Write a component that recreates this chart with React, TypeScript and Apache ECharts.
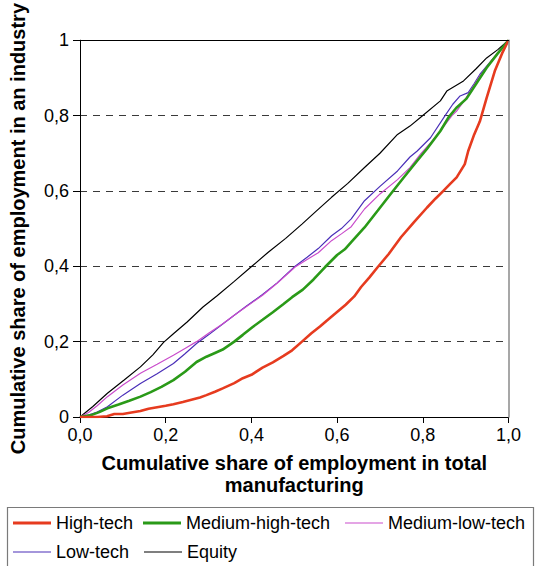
import React, { useEffect, useRef } from "react";
import * as echarts from "echarts";

// Concentration curves: cumulative share of employment in an industry
// against cumulative share of employment in total manufacturing.
const highTech: [number, number][] = [
  [0, 0], [0.04, 0], [0.063, 0.002], [0.08, 0.008], [0.1, 0.008], [0.12, 0.012],
  [0.141, 0.016], [0.16, 0.022], [0.18, 0.026], [0.2, 0.03], [0.218, 0.034],
  [0.24, 0.04], [0.26, 0.046], [0.28, 0.052], [0.295, 0.058], [0.315, 0.067],
  [0.333, 0.076], [0.36, 0.09], [0.38, 0.103], [0.4, 0.112], [0.426, 0.131],
  [0.45, 0.145], [0.475, 0.162], [0.495, 0.177], [0.518, 0.2], [0.54, 0.222],
  [0.56, 0.24], [0.575, 0.255], [0.595, 0.274], [0.62, 0.298], [0.64, 0.32],
  [0.656, 0.345], [0.675, 0.37], [0.695, 0.398], [0.72, 0.432], [0.749, 0.477],
  [0.78, 0.518], [0.81, 0.556], [0.83, 0.58], [0.848, 0.6], [0.865, 0.62],
  [0.879, 0.636], [0.898, 0.671], [0.906, 0.706], [0.92, 0.75], [0.933, 0.784],
  [0.949, 0.847], [0.968, 0.918], [0.985, 0.965], [1, 1],
];

const mediumHighTech: [number, number][] = [
  [0, 0], [0.026, 0.005], [0.045, 0.013], [0.064, 0.023], [0.09, 0.033],
  [0.115, 0.043], [0.141, 0.054], [0.165, 0.066], [0.19, 0.08], [0.218, 0.098],
  [0.245, 0.12], [0.272, 0.146], [0.295, 0.16], [0.315, 0.17], [0.333, 0.179],
  [0.36, 0.2], [0.38, 0.218], [0.403, 0.239], [0.426, 0.258], [0.45, 0.278],
  [0.475, 0.3], [0.495, 0.318], [0.52, 0.338], [0.545, 0.365], [0.572, 0.398],
  [0.6, 0.43], [0.618, 0.445], [0.633, 0.464], [0.664, 0.503], [0.695, 0.548],
  [0.725, 0.592], [0.755, 0.635], [0.787, 0.68], [0.81, 0.712], [0.841, 0.759],
  [0.86, 0.795], [0.878, 0.82], [0.902, 0.845], [0.925, 0.885], [0.949, 0.927],
  [0.975, 0.965], [1, 1],
];

const mediumLowTech: [number, number][] = [
  [0, 0], [0.02, 0.012], [0.04, 0.03], [0.064, 0.054], [0.1, 0.085],
  [0.141, 0.116], [0.18, 0.14], [0.218, 0.164], [0.245, 0.182], [0.272, 0.2],
  [0.3, 0.222], [0.33, 0.245], [0.36, 0.27], [0.387, 0.292], [0.426, 0.323],
  [0.46, 0.355], [0.502, 0.398], [0.53, 0.418], [0.556, 0.436], [0.587, 0.468],
  [0.61, 0.486], [0.633, 0.505], [0.664, 0.552], [0.7, 0.592], [0.741, 0.63],
  [0.77, 0.662], [0.795, 0.698], [0.82, 0.73], [0.841, 0.759], [0.868, 0.8],
  [0.879, 0.812], [0.9, 0.845], [0.933, 0.905], [0.96, 0.945], [1, 1],
];

const lowTech: [number, number][] = [
  [0, 0], [0.02, 0.005], [0.04, 0.013], [0.064, 0.027], [0.1, 0.058],
  [0.141, 0.089], [0.18, 0.115], [0.218, 0.142], [0.245, 0.168], [0.272, 0.195],
  [0.3, 0.218], [0.33, 0.244], [0.36, 0.27], [0.387, 0.293], [0.426, 0.325],
  [0.46, 0.356], [0.502, 0.4], [0.53, 0.424], [0.556, 0.447], [0.587, 0.481],
  [0.61, 0.5], [0.633, 0.526], [0.664, 0.574], [0.7, 0.612], [0.741, 0.653],
  [0.77, 0.69], [0.787, 0.706], [0.818, 0.741], [0.852, 0.8], [0.87, 0.83],
  [0.887, 0.852], [0.906, 0.861], [0.92, 0.885], [0.933, 0.909], [0.952, 0.935],
  [0.972, 0.962], [1, 1],
];

const equity: [number, number][] = [
  [0, 0], [0.03, 0.028], [0.064, 0.063], [0.103, 0.098], [0.141, 0.133],
  [0.17, 0.165], [0.195, 0.198], [0.218, 0.221], [0.25, 0.252], [0.287, 0.292],
  [0.32, 0.322], [0.36, 0.36], [0.399, 0.398], [0.44, 0.438], [0.48, 0.474],
  [0.518, 0.512], [0.55, 0.545], [0.587, 0.583], [0.625, 0.62], [0.664, 0.662],
  [0.7, 0.7], [0.741, 0.75], [0.77, 0.772], [0.8, 0.8], [0.841, 0.839],
  [0.856, 0.865], [0.895, 0.892], [0.925, 0.925], [0.949, 0.953], [0.975, 0.975],
  [1, 1],
];

const seriesNames = ["High-tech", "Medium-high-tech", "Medium-low-tech", "Low-tech", "Equity"];
const seriesData = [highTech, mediumHighTech, mediumLowTech, lowTech, equity];
const seriesColors = ["#e63b1f", "#2a9a18", "#c94ccb", "#4a2fb8", "#000000"];
const seriesWidths = [2.6, 2.6, 1.2, 1.2, 1.2];

const FONT = "'Liberation Sans', Arial, Helvetica, sans-serif";

const fmtX = (v: number) => v.toFixed(1).replace(".", ",");
const fmtY = (v: number) => (v === 0 ? "0" : v === 1 ? "1" : v.toFixed(1).replace(".", ","));

// legend slot positions: [left, top]
const legendSlots: [number, number][] = [
  [13, 514], [143, 514], [345, 514], [13, 543], [144, 543],
];

export default function App() {
  const ref = useRef<HTMLDivElement>(null);

  useEffect(() => {
    if (!ref.current) return;
    const chart = echarts.init(ref.current, undefined, { renderer: "svg" });

    const series = seriesNames.map((name, i) => ({
      name,
      type: "line" as const,
      data: seriesData[i],
      symbol: "none",
      smooth: false,
      lineStyle: { color: seriesColors[i], width: seriesWidths[i] },
      itemStyle: { color: seriesColors[i] },
      z: 5 - i,
    }));

    // one legend block per entry, laid out as a two-row table
    const legends = seriesNames.map((name, i) => ({
      data: [{ name, icon: "rect" }],
      left: legendSlots[i][0],
      top: legendSlots[i][1],
      padding: 0,
      itemWidth: 38,
      itemHeight: Math.max(1, Math.round(seriesWidths[i])),
      selectedMode: false,
      textStyle: { fontSize: 18, color: "#000", fontFamily: FONT },
    }));

    chart.setOption({
      animation: false,
      backgroundColor: "#fff",
      grid: { left: 75.5, right: 29.5, top: 39.5, bottom: 149, containLabel: false },
      legend: legends,
      xAxis: [
        {
          type: "value",
          min: 0,
          max: 1,
          interval: 0.2,
          name: "Cumulative share of employment in total\nmanufacturing",
          nameLocation: "middle",
          nameGap: 35,
          nameTextStyle: { fontSize: 20, fontWeight: "bold", color: "#000", fontFamily: FONT, lineHeight: 22 },
          axisLine: { show: true, lineStyle: { color: "#000", width: 1 } },
          axisTick: { show: true, inside: false, length: 6, lineStyle: { color: "#000" } },
          axisLabel: { formatter: fmtX, fontSize: 18, color: "#000", fontFamily: FONT, margin: 9 },
          splitLine: { show: false },
        },
        {
          type: "value",
          position: "top",
          min: 0,
          max: 1,
          axisLine: { show: true, onZero: false, lineStyle: { color: "#000", width: 1.2 } },
          axisTick: { show: false },
          axisLabel: { show: false },
          splitLine: { show: false },
          z: 10,
        },
      ],
      yAxis: [
        {
          type: "value",
          min: 0,
          max: 1,
          interval: 0.2,
          name: "Cumulative share of employment in an industry",
          nameLocation: "middle",
          nameGap: 52,
          nameTextStyle: { fontSize: 20, fontWeight: "bold", color: "#000", fontFamily: FONT },
          axisLine: { show: true, lineStyle: { color: "#000", width: 1 } },
          axisTick: { show: true, inside: false, length: 7, lineStyle: { color: "#000" } },
          axisLabel: { formatter: fmtY, fontSize: 18, color: "#000", fontFamily: FONT, margin: 11 },
          splitLine: {
            show: true,
            showMinLine: false,
            showMaxLine: false,
            lineStyle: { color: "#3a3a3a", width: 1, type: [7, 6] },
          },
        },
        {
          type: "value",
          position: "right",
          min: 0,
          max: 1,
          axisLine: { show: true, onZero: false, lineStyle: { color: "#8a8a8a", width: 1.5 } },
          axisTick: { show: false },
          axisLabel: { show: false },
          splitLine: { show: false },
          z: 10,
        },
      ],
      graphic: [
        {
          type: "rect",
          shape: { x: 7.5, y: 507.5, width: 526, height: 80 },
          style: { fill: "none", stroke: "#7a7a7a", lineWidth: 1.2 },
          silent: true,
        },
      ],
      series,
    });

    return () => chart.dispose();
  }, []);

  return (
    <div
      ref={ref}
      style={{ position: "absolute", left: 0, top: 0, width: 538, height: 566 }}
    />
  );
}
